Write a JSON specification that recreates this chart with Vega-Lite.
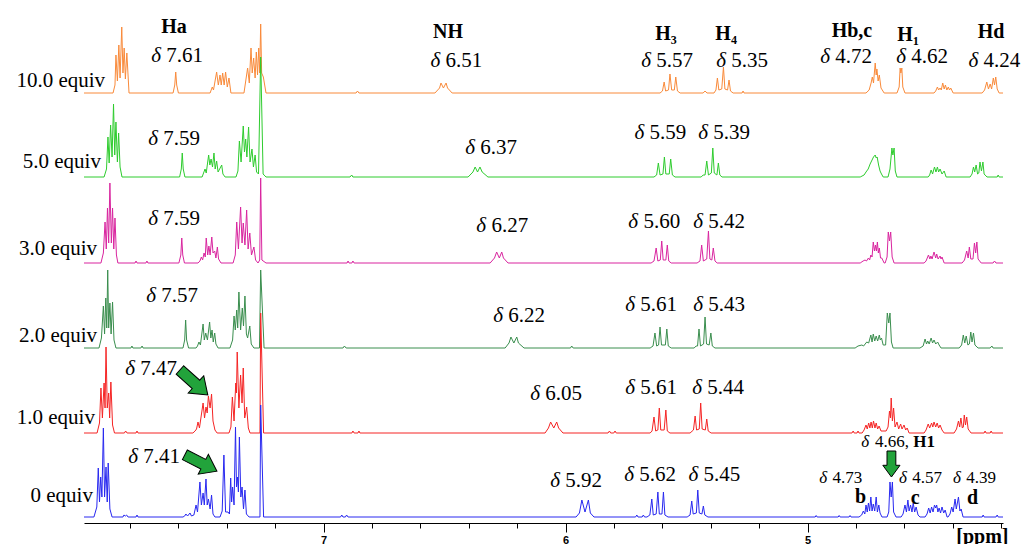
{
"$schema":"https://vega.github.io/schema/vega-lite/v6.json",
"width":919,"height":523,
"autosize":{"type":"none"},
"padding":{"left":84,"top":0,"right":19,"bottom":21},
"background":"white",
"config":{"view":{"stroke":null}},
"resolve":{"axis":{"x":"independent"}},
"datasets":{
"o":[{"x":7.990,"y":424},{"x":7.870,"y":424},{"x":7.862,"y":432},{"x":7.858,"y":462},{"x":7.852,"y":436},{"x":7.846,"y":472},{"x":7.841,"y":439},{"x":7.834,"y":490},{"x":7.829,"y":444},{"x":7.824,"y":469},{"x":7.819,"y":438},{"x":7.813,"y":464},{"x":7.804,"y":424},
{"x":7.622,"y":424},{"x":7.615,"y":432},{"x":7.611,"y":445},{"x":7.607,"y":432},{"x":7.600,"y":424},
{"x":7.469,"y":424},{"x":7.460,"y":430},{"x":7.455,"y":427},{"x":7.442,"y":445},{"x":7.435,"y":432},{"x":7.428,"y":442},{"x":7.423,"y":432},{"x":7.417,"y":444},{"x":7.411,"y":432},{"x":7.405,"y":445},{"x":7.398,"y":430},{"x":7.391,"y":439},{"x":7.383,"y":424},
{"x":7.329,"y":424},{"x":7.314,"y":449},{"x":7.307,"y":434},{"x":7.300,"y":469},{"x":7.295,"y":444},{"x":7.289,"y":459},{"x":7.283,"y":439},{"x":7.278,"y":465},{"x":7.273,"y":442},{"x":7.268,"y":469},{"x":7.264,"y":444},{"x":7.260,"y":493},{"x":7.256,"y":444},{"x":7.249,"y":440},{"x":7.238,"y":424},
{"x":6.866,"y":424},{"x":6.860,"y":426},{"x":6.854,"y":424},
{"x":6.540,"y":424},{"x":6.521,"y":429},{"x":6.515,"y":434},{"x":6.505,"y":429},{"x":6.494,"y":434},{"x":6.488,"y":429},{"x":6.469,"y":424},
{"x":5.610,"y":424},{"x":5.600,"y":426},{"x":5.593,"y":435},{"x":5.587,"y":426},{"x":5.575,"y":427},{"x":5.569,"y":443},{"x":5.562,"y":427},{"x":5.551,"y":427},{"x":5.545,"y":440},{"x":5.538,"y":426},{"x":5.527,"y":424},
{"x":5.432,"y":424},{"x":5.424,"y":426},{"x":5.416,"y":424},{"x":5.387,"y":424},{"x":5.379,"y":427},{"x":5.373,"y":439},{"x":5.367,"y":427},{"x":5.355,"y":428},{"x":5.348,"y":450},{"x":5.342,"y":428},{"x":5.331,"y":427},{"x":5.325,"y":437},{"x":5.319,"y":426},{"x":5.308,"y":424},{"x":5.271,"y":424},{"x":5.267,"y":426},{"x":5.263,"y":424},
{"x":4.759,"y":424},{"x":4.746,"y":427},{"x":4.738,"y":434},{"x":4.733,"y":440},{"x":4.728,"y":434},{"x":4.721,"y":454},{"x":4.717,"y":442},{"x":4.714,"y":448},{"x":4.709,"y":436},{"x":4.704,"y":442},{"x":4.697,"y":429},{"x":4.684,"y":424},
{"x":4.631,"y":424},{"x":4.622,"y":430},{"x":4.618,"y":449},{"x":4.615,"y":444},{"x":4.611,"y":449},{"x":4.607,"y":430},{"x":4.598,"y":424},
{"x":4.478,"y":424},{"x":4.471,"y":426},{"x":4.464,"y":430},{"x":4.459,"y":427},{"x":4.453,"y":429},{"x":4.448,"y":427},{"x":4.442,"y":434},{"x":4.436,"y":428},{"x":4.431,"y":432},{"x":4.425,"y":427},{"x":4.419,"y":430},{"x":4.414,"y":427},{"x":4.409,"y":429},{"x":4.399,"y":424},
{"x":4.279,"y":424},{"x":4.269,"y":427},{"x":4.260,"y":435},{"x":4.253,"y":428},{"x":4.246,"y":433},{"x":4.240,"y":428},{"x":4.233,"y":439},{"x":4.228,"y":432},{"x":4.223,"y":440},{"x":4.217,"y":428},{"x":4.209,"y":424},{"x":4.193,"y":424}],
"g":[{"x":7.990,"y":340},{"x":7.907,"y":340},{"x":7.897,"y":348},{"x":7.891,"y":380},{"x":7.886,"y":354},{"x":7.880,"y":392},{"x":7.874,"y":360},{"x":7.868,"y":413},{"x":7.863,"y":362},{"x":7.858,"y":395},{"x":7.852,"y":355},{"x":7.847,"y":384},{"x":7.841,"y":350},{"x":7.833,"y":340},
{"x":7.595,"y":340},{"x":7.588,"y":348},{"x":7.584,"y":364},{"x":7.580,"y":348},{"x":7.573,"y":340},
{"x":7.502,"y":340},{"x":7.490,"y":348},{"x":7.485,"y":344},{"x":7.475,"y":362},{"x":7.470,"y":352},{"x":7.465,"y":358},{"x":7.459,"y":350},{"x":7.453,"y":364},{"x":7.448,"y":348},{"x":7.442,"y":356},{"x":7.436,"y":345},{"x":7.421,"y":352},{"x":7.416,"y":343},{"x":7.407,"y":340},
{"x":7.362,"y":340},{"x":7.354,"y":346},{"x":7.348,"y":376},{"x":7.341,"y":355},{"x":7.332,"y":391},{"x":7.327,"y":365},{"x":7.322,"y":378},{"x":7.317,"y":360},{"x":7.310,"y":390},{"x":7.304,"y":355},{"x":7.296,"y":368},{"x":7.290,"y":350},{"x":7.283,"y":362},{"x":7.277,"y":345},{"x":7.269,"y":343},{"x":7.260,"y":460},{"x":7.250,"y":343},{"x":7.238,"y":340},
{"x":6.891,"y":340},{"x":6.884,"y":342},{"x":6.879,"y":340},
{"x":6.403,"y":340},{"x":6.383,"y":345},{"x":6.374,"y":350},{"x":6.364,"y":345},{"x":6.354,"y":350},{"x":6.345,"y":345},{"x":6.321,"y":340},
{"x":5.635,"y":340},{"x":5.624,"y":342},{"x":5.617,"y":354},{"x":5.610,"y":342},{"x":5.598,"y":343},{"x":5.592,"y":360},{"x":5.586,"y":343},{"x":5.572,"y":343},{"x":5.566,"y":358},{"x":5.559,"y":342},{"x":5.548,"y":340},
{"x":5.440,"y":340},{"x":5.432,"y":342},{"x":5.424,"y":342},{"x":5.417,"y":356},{"x":5.410,"y":342},{"x":5.398,"y":344},{"x":5.392,"y":369},{"x":5.386,"y":344},{"x":5.375,"y":342},{"x":5.369,"y":354},{"x":5.363,"y":342},{"x":5.354,"y":340},
{"x":4.783,"y":340},{"x":4.767,"y":342},{"x":4.759,"y":345},{"x":4.750,"y":348},{"x":4.742,"y":353},{"x":4.734,"y":357},{"x":4.728,"y":360},{"x":4.721,"y":362},{"x":4.717,"y":359},{"x":4.713,"y":360},{"x":4.707,"y":352},{"x":4.701,"y":346},{"x":4.695,"y":343},{"x":4.688,"y":340},
{"x":4.668,"y":340},{"x":4.660,"y":348},{"x":4.652,"y":369},{"x":4.648,"y":362},{"x":4.643,"y":369},{"x":4.638,"y":346},{"x":4.631,"y":340},
{"x":4.502,"y":340},{"x":4.496,"y":342},{"x":4.490,"y":347},{"x":4.484,"y":343},{"x":4.476,"y":350},{"x":4.470,"y":345},{"x":4.464,"y":350},{"x":4.459,"y":345},{"x":4.453,"y":348},{"x":4.445,"y":343},{"x":4.436,"y":346},{"x":4.428,"y":340},
{"x":4.329,"y":340},{"x":4.321,"y":343},{"x":4.315,"y":350},{"x":4.310,"y":345},{"x":4.304,"y":352},{"x":4.298,"y":343},{"x":4.293,"y":344},{"x":4.288,"y":355},{"x":4.282,"y":346},{"x":4.276,"y":355},{"x":4.271,"y":343},{"x":4.259,"y":340},{"x":4.217,"y":340},{"x":4.213,"y":342},{"x":4.209,"y":340},{"x":4.193,"y":340}],
"m":[{"x":7.990,"y":254},{"x":7.920,"y":254},{"x":7.910,"y":264},{"x":7.903,"y":295},{"x":7.898,"y":268},{"x":7.893,"y":309},{"x":7.888,"y":274},{"x":7.883,"y":334},{"x":7.877,"y":274},{"x":7.872,"y":309},{"x":7.867,"y":268},{"x":7.862,"y":299},{"x":7.856,"y":262},{"x":7.850,"y":254},
{"x":7.779,"y":254},{"x":7.775,"y":256},{"x":7.771,"y":254},{"x":7.734,"y":254},{"x":7.730,"y":256},{"x":7.726,"y":254},
{"x":7.598,"y":254},{"x":7.590,"y":262},{"x":7.586,"y":279},{"x":7.582,"y":262},{"x":7.575,"y":254},
{"x":7.519,"y":254},{"x":7.511,"y":256},{"x":7.505,"y":260},{"x":7.500,"y":257},{"x":7.494,"y":264},{"x":7.489,"y":260},{"x":7.485,"y":279},{"x":7.479,"y":262},{"x":7.474,"y":271},{"x":7.469,"y":262},{"x":7.462,"y":280},{"x":7.457,"y":264},{"x":7.450,"y":266},{"x":7.445,"y":259},{"x":7.439,"y":270},{"x":7.434,"y":258},{"x":7.424,"y":254},
{"x":7.374,"y":254},{"x":7.365,"y":262},{"x":7.359,"y":295},{"x":7.352,"y":268},{"x":7.343,"y":310},{"x":7.337,"y":274},{"x":7.332,"y":294},{"x":7.325,"y":272},{"x":7.318,"y":307},{"x":7.312,"y":268},{"x":7.305,"y":284},{"x":7.298,"y":262},{"x":7.288,"y":270},{"x":7.281,"y":257},{"x":7.271,"y":254},{"x":7.264,"y":257},{"x":7.260,"y":339},{"x":7.255,"y":257},{"x":7.238,"y":254},
{"x":6.903,"y":254},{"x":6.899,"y":256},{"x":6.895,"y":254},{"x":6.883,"y":254},{"x":6.879,"y":256},{"x":6.874,"y":254},
{"x":6.312,"y":254},{"x":6.294,"y":259},{"x":6.285,"y":265},{"x":6.274,"y":259},{"x":6.264,"y":265},{"x":6.257,"y":259},{"x":6.238,"y":254},
{"x":5.647,"y":254},{"x":5.635,"y":256},{"x":5.626,"y":269},{"x":5.619,"y":256},{"x":5.609,"y":257},{"x":5.603,"y":276},{"x":5.597,"y":257},{"x":5.586,"y":257},{"x":5.580,"y":272},{"x":5.574,"y":256},{"x":5.564,"y":254},
{"x":5.457,"y":254},{"x":5.445,"y":256},{"x":5.438,"y":272},{"x":5.431,"y":256},{"x":5.417,"y":258},{"x":5.410,"y":286},{"x":5.404,"y":258},{"x":5.396,"y":257},{"x":5.390,"y":269},{"x":5.383,"y":256},{"x":5.374,"y":254},
{"x":4.783,"y":254},{"x":4.771,"y":256},{"x":4.763,"y":257},{"x":4.757,"y":256},{"x":4.749,"y":259},{"x":4.744,"y":257},{"x":4.739,"y":262},{"x":4.734,"y":260},{"x":4.729,"y":275},{"x":4.724,"y":266},{"x":4.720,"y":272},{"x":4.716,"y":266},{"x":4.712,"y":275},{"x":4.708,"y":264},{"x":4.704,"y":269},{"x":4.699,"y":259},{"x":4.694,"y":259},{"x":4.684,"y":254},
{"x":4.680,"y":254},{"x":4.672,"y":260},{"x":4.667,"y":285},{"x":4.662,"y":276},{"x":4.657,"y":285},{"x":4.651,"y":260},{"x":4.643,"y":254},
{"x":4.519,"y":254},{"x":4.511,"y":256},{"x":4.501,"y":262},{"x":4.495,"y":258},{"x":4.491,"y":261},{"x":4.486,"y":258},{"x":4.478,"y":265},{"x":4.471,"y":259},{"x":4.467,"y":263},{"x":4.461,"y":258},{"x":4.453,"y":261},{"x":4.449,"y":258},{"x":4.445,"y":260},{"x":4.436,"y":254},
{"x":4.362,"y":254},{"x":4.352,"y":257},{"x":4.343,"y":266},{"x":4.337,"y":259},{"x":4.332,"y":270},{"x":4.326,"y":258},{"x":4.317,"y":258},{"x":4.311,"y":274},{"x":4.306,"y":264},{"x":4.301,"y":275},{"x":4.296,"y":258},{"x":4.283,"y":254},{"x":4.234,"y":254},{"x":4.228,"y":256},{"x":4.222,"y":254},{"x":4.193,"y":254}],
"k":[{"x":7.990,"y":169},{"x":7.928,"y":169},{"x":7.918,"y":179},{"x":7.910,"y":211},{"x":7.905,"y":183},{"x":7.900,"y":219},{"x":7.896,"y":189},{"x":7.892,"y":247},{"x":7.888,"y":189},{"x":7.883,"y":214},{"x":7.878,"y":183},{"x":7.872,"y":215},{"x":7.866,"y":177},{"x":7.858,"y":169},
{"x":7.796,"y":169},{"x":7.792,"y":171},{"x":7.788,"y":169},{"x":7.755,"y":169},{"x":7.750,"y":171},{"x":7.746,"y":169},
{"x":7.581,"y":169},{"x":7.574,"y":177},{"x":7.570,"y":197},{"x":7.566,"y":177},{"x":7.558,"y":169},
{"x":7.527,"y":169},{"x":7.521,"y":171},{"x":7.515,"y":175},{"x":7.509,"y":172},{"x":7.498,"y":193},{"x":7.493,"y":177},{"x":7.487,"y":184},{"x":7.480,"y":177},{"x":7.471,"y":195},{"x":7.466,"y":179},{"x":7.461,"y":187},{"x":7.456,"y":175},{"x":7.450,"y":184},{"x":7.445,"y":173},{"x":7.436,"y":169},
{"x":7.387,"y":169},{"x":7.376,"y":177},{"x":7.370,"y":201},{"x":7.365,"y":187},{"x":7.359,"y":207},{"x":7.355,"y":189},{"x":7.350,"y":225},{"x":7.343,"y":187},{"x":7.336,"y":209},{"x":7.331,"y":191},{"x":7.325,"y":221},{"x":7.319,"y":183},{"x":7.314,"y":179},{"x":7.305,"y":191},{"x":7.299,"y":173},{"x":7.288,"y":169},{"x":7.265,"y":169},{"x":7.260,"y":247},{"x":7.246,"y":169},
{"x":6.920,"y":169},{"x":6.914,"y":171},{"x":6.907,"y":169},
{"x":6.250,"y":169},{"x":6.234,"y":174},{"x":6.226,"y":180},{"x":6.214,"y":174},{"x":6.202,"y":180},{"x":6.195,"y":174},{"x":6.172,"y":169},
{"x":5.980,"y":169},{"x":5.975,"y":171},{"x":5.969,"y":169},
{"x":5.651,"y":169},{"x":5.639,"y":171},{"x":5.631,"y":184},{"x":5.624,"y":171},{"x":5.616,"y":172},{"x":5.610,"y":190},{"x":5.604,"y":172},{"x":5.588,"y":172},{"x":5.582,"y":188},{"x":5.576,"y":171},{"x":5.564,"y":169},
{"x":5.469,"y":169},{"x":5.461,"y":171},{"x":5.455,"y":171},{"x":5.449,"y":188},{"x":5.443,"y":171},{"x":5.430,"y":173},{"x":5.424,"y":200},{"x":5.418,"y":173},{"x":5.407,"y":172},{"x":5.400,"y":184},{"x":5.394,"y":171},{"x":5.383,"y":169},
{"x":4.804,"y":169},{"x":4.792,"y":171},{"x":4.776,"y":172},{"x":4.769,"y":171},{"x":4.756,"y":175},{"x":4.748,"y":174},{"x":4.739,"y":182},{"x":4.734,"y":175},{"x":4.729,"y":183},{"x":4.723,"y":176},{"x":4.717,"y":181},{"x":4.711,"y":176},{"x":4.704,"y":182},{"x":4.700,"y":177},{"x":4.695,"y":179},{"x":4.688,"y":172},{"x":4.678,"y":172},{"x":4.671,"y":204},{"x":4.665,"y":194},{"x":4.660,"y":204},{"x":4.654,"y":175},{"x":4.647,"y":169},
{"x":4.536,"y":169},{"x":4.523,"y":171},{"x":4.515,"y":178},{"x":4.509,"y":173},{"x":4.504,"y":176},{"x":4.498,"y":173},{"x":4.490,"y":179},{"x":4.484,"y":174},{"x":4.478,"y":177},{"x":4.471,"y":173},{"x":4.463,"y":175},{"x":4.457,"y":172},{"x":4.449,"y":169},
{"x":4.374,"y":169},{"x":4.364,"y":172},{"x":4.357,"y":182},{"x":4.351,"y":174},{"x":4.345,"y":181},{"x":4.338,"y":172},{"x":4.332,"y":173},{"x":4.326,"y":185},{"x":4.321,"y":175},{"x":4.315,"y":184},{"x":4.309,"y":172},{"x":4.296,"y":169},{"x":4.246,"y":169},{"x":4.239,"y":171},{"x":4.234,"y":169},{"x":4.193,"y":169}],
"r":[{"x":7.990,"y":84},{"x":7.936,"y":84},{"x":7.926,"y":94},{"x":7.920,"y":129},{"x":7.914,"y":99},{"x":7.907,"y":134},{"x":7.903,"y":109},{"x":7.899,"y":170},{"x":7.894,"y":109},{"x":7.888,"y":124},{"x":7.884,"y":99},{"x":7.879,"y":135},{"x":7.872,"y":92},{"x":7.864,"y":84},
{"x":7.823,"y":84},{"x":7.818,"y":86},{"x":7.812,"y":84},{"x":7.775,"y":84},{"x":7.771,"y":86},{"x":7.767,"y":84},
{"x":7.540,"y":84},{"x":7.531,"y":86},{"x":7.525,"y":88},{"x":7.519,"y":95},{"x":7.513,"y":89},{"x":7.504,"y":104},{"x":7.498,"y":114},{"x":7.492,"y":99},{"x":7.486,"y":110},{"x":7.481,"y":104},{"x":7.476,"y":121},{"x":7.469,"y":109},{"x":7.463,"y":123},{"x":7.457,"y":96},{"x":7.449,"y":87},{"x":7.440,"y":84},
{"x":7.391,"y":84},{"x":7.383,"y":90},{"x":7.377,"y":120},{"x":7.370,"y":96},{"x":7.363,"y":134},{"x":7.360,"y":124},{"x":7.357,"y":165},{"x":7.350,"y":109},{"x":7.343,"y":142},{"x":7.337,"y":114},{"x":7.332,"y":149},{"x":7.326,"y":99},{"x":7.318,"y":110},{"x":7.311,"y":89},{"x":7.304,"y":84},{"x":7.263,"y":84},{"x":7.260,"y":204},{"x":7.248,"y":84},
{"x":6.883,"y":84},{"x":6.879,"y":86},{"x":6.874,"y":84},{"x":6.858,"y":84},{"x":6.854,"y":86},{"x":6.850,"y":84},
{"x":6.085,"y":84},{"x":6.071,"y":89},{"x":6.062,"y":95},{"x":6.049,"y":89},{"x":6.037,"y":95},{"x":6.029,"y":89},{"x":6.011,"y":84},
{"x":5.825,"y":84},{"x":5.819,"y":86},{"x":5.814,"y":84},{"x":5.801,"y":84},{"x":5.796,"y":86},{"x":5.791,"y":84},
{"x":5.651,"y":84},{"x":5.643,"y":86},{"x":5.635,"y":100},{"x":5.628,"y":86},{"x":5.619,"y":87},{"x":5.613,"y":109},{"x":5.607,"y":87},{"x":5.593,"y":87},{"x":5.586,"y":107},{"x":5.580,"y":86},{"x":5.569,"y":84},
{"x":5.486,"y":84},{"x":5.472,"y":87},{"x":5.465,"y":101},{"x":5.459,"y":87},{"x":5.448,"y":88},{"x":5.442,"y":114},{"x":5.436,"y":88},{"x":5.423,"y":87},{"x":5.417,"y":98},{"x":5.411,"y":86},{"x":5.399,"y":84},
{"x":4.817,"y":84},{"x":4.812,"y":86},{"x":4.808,"y":84},{"x":4.796,"y":84},{"x":4.792,"y":86},{"x":4.788,"y":84},
{"x":4.775,"y":84},{"x":4.767,"y":87},{"x":4.759,"y":92},{"x":4.754,"y":88},{"x":4.748,"y":94},{"x":4.743,"y":89},{"x":4.738,"y":95},{"x":4.733,"y":89},{"x":4.728,"y":96},{"x":4.722,"y":89},{"x":4.717,"y":94},{"x":4.711,"y":88},{"x":4.705,"y":91},{"x":4.697,"y":86},{"x":4.676,"y":86},{"x":4.668,"y":90},{"x":4.662,"y":106},{"x":4.658,"y":99},{"x":4.655,"y":119},{"x":4.650,"y":96},{"x":4.645,"y":109},{"x":4.639,"y":90},{"x":4.631,"y":95},{"x":4.624,"y":88},{"x":4.616,"y":93},{"x":4.610,"y":88},{"x":4.602,"y":92},{"x":4.595,"y":87},{"x":4.589,"y":89},{"x":4.581,"y":84},
{"x":4.519,"y":84},{"x":4.511,"y":87},{"x":4.502,"y":93},{"x":4.496,"y":89},{"x":4.488,"y":94},{"x":4.483,"y":90},{"x":4.478,"y":95},{"x":4.471,"y":90},{"x":4.465,"y":94},{"x":4.459,"y":89},{"x":4.453,"y":92},{"x":4.445,"y":87},{"x":4.436,"y":84},
{"x":4.395,"y":84},{"x":4.385,"y":88},{"x":4.377,"y":96},{"x":4.372,"y":90},{"x":4.367,"y":99},{"x":4.361,"y":89},{"x":4.357,"y":90},{"x":4.353,"y":102},{"x":4.348,"y":92},{"x":4.343,"y":100},{"x":4.337,"y":88},{"x":4.325,"y":84},
{"x":4.271,"y":84},{"x":4.267,"y":86},{"x":4.263,"y":84},{"x":4.246,"y":84},{"x":4.242,"y":86},{"x":4.238,"y":84},{"x":4.193,"y":84}],
"b":[{"x":7.990,"y":0},{"x":7.949,"y":0},{"x":7.937,"y":10},{"x":7.931,"y":49},{"x":7.926,"y":15},{"x":7.921,"y":40},{"x":7.916,"y":20},{"x":7.910,"y":89},{"x":7.905,"y":20},{"x":7.899,"y":50},{"x":7.894,"y":15},{"x":7.890,"y":54},{"x":7.883,"y":8},{"x":7.874,"y":0},
{"x":7.829,"y":0},{"x":7.825,"y":2},{"x":7.819,"y":1},{"x":7.814,"y":2},{"x":7.808,"y":0},{"x":7.775,"y":0},{"x":7.771,"y":2},{"x":7.767,"y":0},
{"x":7.581,"y":0},{"x":7.574,"y":1},{"x":7.569,"y":3},{"x":7.562,"y":1},{"x":7.552,"y":4},{"x":7.546,"y":1},{"x":7.536,"y":2},{"x":7.527,"y":12},{"x":7.521,"y":5},{"x":7.511,"y":35},{"x":7.505,"y":12},{"x":7.498,"y":24},{"x":7.493,"y":12},{"x":7.486,"y":38},{"x":7.481,"y":12},{"x":7.476,"y":18},{"x":7.469,"y":8},{"x":7.463,"y":22},{"x":7.457,"y":3},{"x":7.449,"y":0},
{"x":7.428,"y":0},{"x":7.419,"y":6},{"x":7.412,"y":62},{"x":7.405,"y":5},{"x":7.395,"y":5},{"x":7.389,"y":3},{"x":7.384,"y":39},{"x":7.380,"y":15},{"x":7.376,"y":30},{"x":7.370,"y":12},{"x":7.364,"y":90},{"x":7.360,"y":30},{"x":7.356,"y":40},{"x":7.352,"y":25},{"x":7.348,"y":80},{"x":7.342,"y":20},{"x":7.337,"y":30},{"x":7.331,"y":8},{"x":7.325,"y":27},{"x":7.319,"y":3},{"x":7.308,"y":0},{"x":7.263,"y":0},{"x":7.260,"y":112},{"x":7.248,"y":0},
{"x":6.930,"y":0},{"x":6.925,"y":2},{"x":6.920,"y":0},{"x":6.910,"y":0},{"x":6.905,"y":2},{"x":6.899,"y":0},
{"x":5.957,"y":0},{"x":5.943,"y":4},{"x":5.933,"y":17},{"x":5.920,"y":5},{"x":5.906,"y":17},{"x":5.898,"y":4},{"x":5.883,"y":0},
{"x":5.711,"y":0},{"x":5.706,"y":2},{"x":5.701,"y":0},{"x":5.684,"y":0},{"x":5.679,"y":2},{"x":5.674,"y":0},
{"x":5.664,"y":0},{"x":5.652,"y":2},{"x":5.644,"y":18},{"x":5.638,"y":2},{"x":5.626,"y":3},{"x":5.619,"y":25},{"x":5.613,"y":3},{"x":5.602,"y":3},{"x":5.596,"y":25},{"x":5.590,"y":2},{"x":5.577,"y":0},
{"x":5.498,"y":0},{"x":5.486,"y":2},{"x":5.479,"y":16},{"x":5.473,"y":3},{"x":5.460,"y":4},{"x":5.454,"y":27},{"x":5.448,"y":4},{"x":5.437,"y":3},{"x":5.431,"y":11},{"x":5.425,"y":2},{"x":5.412,"y":0},
{"x":4.969,"y":0},{"x":4.965,"y":1.5},{"x":4.961,"y":0},{"x":4.874,"y":0},{"x":4.870,"y":1.5},{"x":4.866,"y":0},{"x":4.829,"y":0},{"x":4.825,"y":1.5},{"x":4.821,"y":0},
{"x":4.788,"y":0},{"x":4.777,"y":2},{"x":4.770,"y":6},{"x":4.764,"y":3},{"x":4.759,"y":12},{"x":4.754,"y":5},{"x":4.749,"y":14},{"x":4.744,"y":6},{"x":4.739,"y":20},{"x":4.734,"y":6},{"x":4.729,"y":13},{"x":4.723,"y":6},{"x":4.717,"y":20},{"x":4.712,"y":5},{"x":4.706,"y":12},{"x":4.701,"y":4},{"x":4.693,"y":0},
{"x":4.672,"y":0},{"x":4.665,"y":5},{"x":4.660,"y":35},{"x":4.655,"y":20},{"x":4.650,"y":35},{"x":4.645,"y":5},{"x":4.635,"y":0},
{"x":4.614,"y":0},{"x":4.606,"y":3},{"x":4.598,"y":12},{"x":4.592,"y":5},{"x":4.586,"y":17},{"x":4.581,"y":6},{"x":4.575,"y":12},{"x":4.569,"y":5},{"x":4.564,"y":14},{"x":4.558,"y":5},{"x":4.552,"y":10},{"x":4.544,"y":2},{"x":4.536,"y":0},
{"x":4.515,"y":0},{"x":4.507,"y":3},{"x":4.500,"y":9},{"x":4.494,"y":4},{"x":4.488,"y":10},{"x":4.482,"y":5},{"x":4.476,"y":12},{"x":4.471,"y":9},{"x":4.467,"y":12},{"x":4.462,"y":5},{"x":4.457,"y":9},{"x":4.451,"y":4},{"x":4.445,"y":10},{"x":4.438,"y":4},{"x":4.432,"y":7},{"x":4.424,"y":0},
{"x":4.420,"y":0},{"x":4.412,"y":3},{"x":4.405,"y":10},{"x":4.399,"y":5},{"x":4.391,"y":18},{"x":4.386,"y":8},{"x":4.377,"y":20},{"x":4.371,"y":6},{"x":4.366,"y":8},{"x":4.358,"y":0},
{"x":4.279,"y":0},{"x":4.275,"y":2},{"x":4.271,"y":0},{"x":4.222,"y":0},{"x":4.217,"y":2},{"x":4.213,"y":0},{"x":4.193,"y":0}],
"eq":[{"x":7.903,"y":430,"t":"10.0 equiv"},{"x":7.920,"y":349,"t":"5.0 equiv"},{"x":7.936,"y":262,"t":"3.0 equiv"},{"x":7.936,"y":175,"t":"2.0 equiv"},{"x":7.945,"y":93,"t":"1.0 equiv"},{"x":7.953,"y":15,"t":"0 equiv"}],
"hdr":[{"x":7.618,"y":484,"t":"Ha"},{"x":6.486,"y":479,"t":"NH"},{"x":5.585,"y":477,"t":"H₃"},{"x":5.337,"y":477,"t":"H₄"},{"x":4.817,"y":480,"t":"Hb,c"},{"x":4.585,"y":476,"t":"H₁"},{"x":4.242,"y":479,"t":"Hd"}],
"lab":[{"x":7.498,"y":455,"t":"7.61"},{"x":6.345,"y":450,"t":"6.51"},{"x":5.474,"y":450,"t":"5.57"},{"x":5.164,"y":450,"t":"5.35"},{"x":4.734,"y":454,"t":"4.72"},{"x":4.420,"y":454,"t":"4.62"},{"x":4.122,"y":450,"t":"4.24"},
{"x":7.511,"y":372,"t":"7.59"},{"x":6.201,"y":363,"t":"6.37"},{"x":5.502,"y":378,"t":"5.59"},{"x":5.238,"y":378,"t":"5.39"},
{"x":7.511,"y":292,"t":"7.59"},{"x":6.155,"y":285,"t":"6.27"},{"x":5.527,"y":289,"t":"5.60"},{"x":5.259,"y":289,"t":"5.42"},
{"x":7.519,"y":215,"t":"7.57"},{"x":6.085,"y":195,"t":"6.22"},{"x":5.540,"y":206,"t":"5.61"},{"x":5.259,"y":206,"t":"5.43"},
{"x":7.606,"y":142,"t":"7.47"},{"x":5.932,"y":117,"t":"6.05"},{"x":5.540,"y":123,"t":"5.61"},{"x":5.263,"y":123,"t":"5.44"},
{"x":7.593,"y":54,"t":"7.41"},{"x":5.850,"y":30,"t":"5.92"},{"x":5.544,"y":36,"t":"5.62"},{"x":5.279,"y":36,"t":"5.45"}],
"labs":[{"x":4.775,"y":34,"t":"4.73"},{"x":4.445,"y":34,"t":"4.57"},{"x":4.222,"y":34,"t":"4.39"}],
"labh":[{"x":4.581,"y":70,"t":"4.66,"}],
"h1":[{"x":4.474,"y":70,"t":"H1"}],
"bcd":[{"x":4.781,"y":14,"t":"b"},{"x":4.556,"y":13,"t":"c"},{"x":4.319,"y":13,"t":"d"}],
"a1":[{"x":7.536,"y":134.5}],
"a2":[{"x":7.507,"y":54}],
"a3":[{"x":4.654,"y":53}]
},
"encoding":{
"x":{"field":"x","type":"quantitative","scale":{"domain":[4.193,7.99],"reverse":true,"nice":false,"zero":false},"axis":null},
"y":{"field":"y","type":"quantitative","scale":{"domain":[-6,517],"nice":false,"zero":false},"axis":null}
},
"layer":[
{"data":{"name":"o"},"mark":{"type":"line","color":"#F98A3A","strokeWidth":1},
 "encoding":{"x":{"field":"x","type":"quantitative","scale":{"domain":[4.193,7.99],"reverse":true,"nice":false,"zero":false},
  "axis":{"orient":"bottom","values":[7.8,7.6,7.4,7.2,6.8,6.6,6.4,6.2,5.8,5.6,5.4,5.2,4.8,4.6,4.4,4.2],"labels":false,"domain":false,"grid":false,"tickSize":5,"tickColor":"#000","tickWidth":1,"title":null}}}},
{"data":{"name":"g"},"mark":{"type":"line","color":"#2ECC2E","strokeWidth":1}},
{"data":{"name":"m"},"mark":{"type":"line","color":"#D9259F","strokeWidth":1}},
{"data":{"name":"k"},"mark":{"type":"line","color":"#3A8E4E","strokeWidth":1}},
{"data":{"name":"r"},"mark":{"type":"line","color":"#F52424","strokeWidth":1}},
{"data":{"name":"b"},"mark":{"type":"line","color":"#2828F0","strokeWidth":1},
 "encoding":{"x":{"field":"x","type":"quantitative","scale":{"domain":[4.193,7.99],"reverse":true,"nice":false,"zero":false},
  "axis":{"orient":"bottom","values":[7,6,5],"format":"d","grid":false,"domain":true,"domainColor":"#000","domainWidth":1,"tickSize":9,"tickColor":"#000","tickWidth":1,
   "labelFont":"Liberation Sans","labelFontSize":11,"labelFontWeight":"bold","labelColor":"#000","labelPadding":2,
   "title":"[ppm]","titleFont":"Liberation Serif","titleFontSize":20,"titleFontWeight":"bold","titleColor":"#000","titleAnchor":"end","titleAlign":"right","titleBaseline":"alphabetic","titleX":924,"titleY":19}}}},
{"data":{"name":"eq"},"mark":{"type":"text","font":"Liberation Serif","fontSize":21,"align":"right","baseline":"alphabetic","color":"#000"},"encoding":{"text":{"field":"t"}}},
{"data":{"name":"hdr"},"mark":{"type":"text","font":"Liberation Serif","fontSize":20,"fontWeight":"bold","align":"center","baseline":"alphabetic","color":"#000"},"encoding":{"text":{"field":"t"}}},
{"data":{"name":"lab"},"mark":{"type":"text","font":"Liberation Serif","fontSize":21,"align":"right","baseline":"alphabetic","color":"#000"},"encoding":{"text":{"field":"t"}}},
{"data":{"name":"lab"},"mark":{"type":"text","text":"δ","font":"Liberation Serif","fontSize":21,"fontStyle":"italic","align":"right","dx":-42,"baseline":"alphabetic","color":"#000"}},
{"data":{"name":"labs"},"mark":{"type":"text","font":"Liberation Serif","fontSize":17,"align":"right","baseline":"alphabetic","color":"#000"},"encoding":{"text":{"field":"t"}}},
{"data":{"name":"labs"},"mark":{"type":"text","text":"δ","font":"Liberation Serif","fontSize":17,"fontStyle":"italic","align":"right","dx":-35,"baseline":"alphabetic","color":"#000"}},
{"data":{"name":"labh"},"mark":{"type":"text","font":"Liberation Serif","fontSize":17,"align":"right","baseline":"alphabetic","color":"#000"},"encoding":{"text":{"field":"t"}}},
{"data":{"name":"labh"},"mark":{"type":"text","text":"δ","font":"Liberation Serif","fontSize":17,"fontStyle":"italic","align":"right","dx":-40,"baseline":"alphabetic","color":"#000"}},
{"data":{"name":"h1"},"mark":{"type":"text","font":"Liberation Serif","fontSize":17,"fontWeight":"bold","align":"right","baseline":"alphabetic","color":"#000"},"encoding":{"text":{"field":"t"}}},
{"data":{"name":"bcd"},"mark":{"type":"text","font":"Liberation Serif","fontSize":20,"fontWeight":"bold","align":"center","baseline":"alphabetic","color":"#000"},"encoding":{"text":{"field":"t"}}},
{"data":{"name":"a1"},"mark":{"type":"point","shape":"M-1,-0.3L0.15,-0.3L0.15,-0.62L1,0L0.15,0.62L0.15,0.3L-1,0.3Z","size":1406,"angle":42,"filled":true,"fill":"#22A33B","stroke":"#000","strokeWidth":1,"opacity":1}},
{"data":{"name":"a2"},"mark":{"type":"point","shape":"M-1,-0.3L0.15,-0.3L0.15,-0.62L1,0L0.15,0.62L0.15,0.3L-1,0.3Z","size":1296,"angle":27,"filled":true,"fill":"#22A33B","stroke":"#000","strokeWidth":1,"opacity":1}},
{"data":{"name":"a3"},"mark":{"type":"point","shape":"M-1,-0.34L0.1,-0.34L0.1,-0.66L1,0L0.1,0.66L0.1,0.34L-1,0.34Z","size":676,"angle":90,"filled":true,"fill":"#22A33B","stroke":"#000","strokeWidth":1,"opacity":1}}
]
}
